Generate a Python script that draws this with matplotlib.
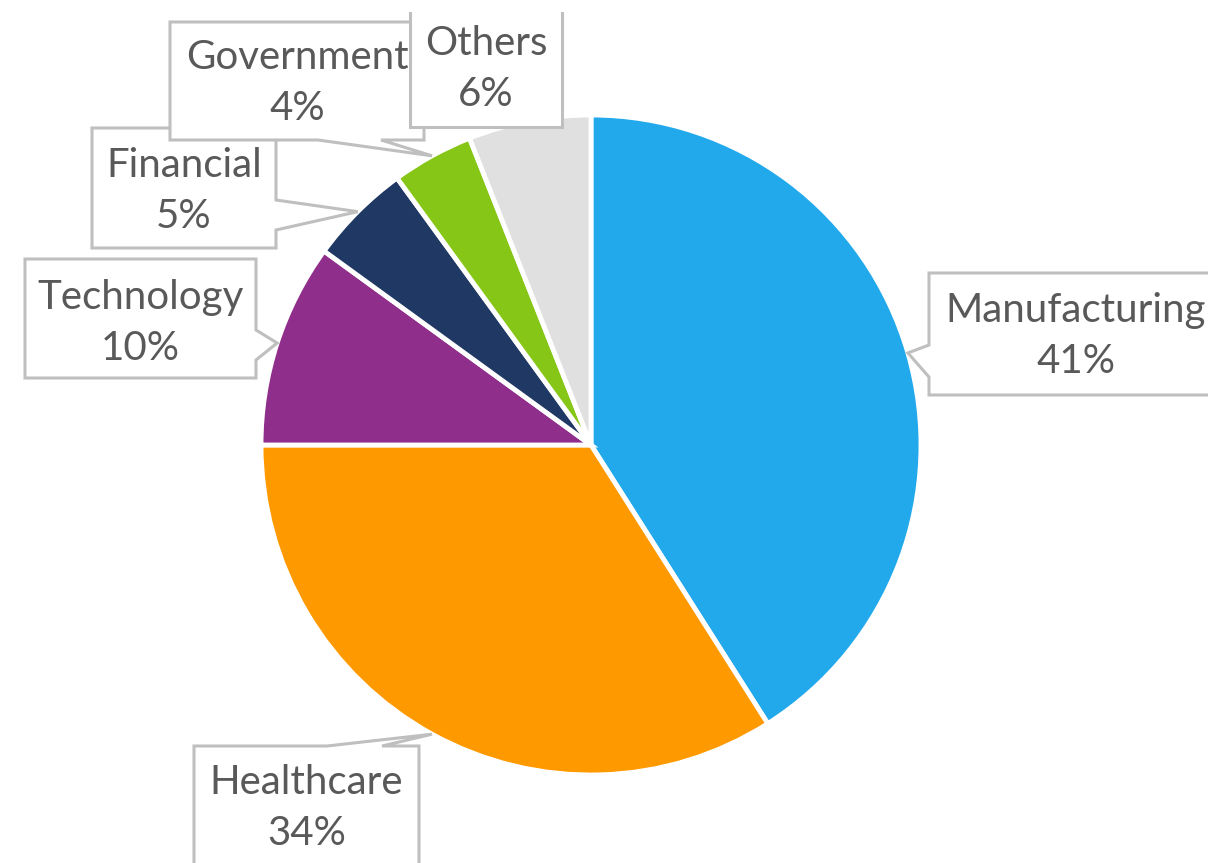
import numpy as np
import matplotlib.pyplot as plt
from matplotlib.patches import Polygon, Rectangle

# donnees du graphique
sectors = ['Manufacturing', 'Healthcare', 'Technology', 'Financial', 'Government', 'Others']
shares = [41, 34, 10, 5, 4, 6]
colors = ['#22A9EC', '#FF9900', '#8F2F8B', '#1F3864', '#86C617', '#E0E0E0']

# boites des etiquettes en pixels (x0, y0, x1, y1), cote du pointeur et base du pointeur
boxes = {
    'Manufacturing': ((929, 273, 1240, 395), 'left', (345, 377)),
    'Healthcare': ((194, 746, 419, 900), 'top', (327, 382)),
    'Technology': ((25, 259, 256, 378), 'right', (330, 360)),
    'Financial': ((92, 128, 276, 248), 'right', (200, 230)),
    'Government': ((170, 22, 424, 140), 'bottom', (318, 381)),
    'Others': ((410, -20, 562, 127), None, None),
}
# centre vertical du texte de chaque boite (pixels)
text_y = {'Manufacturing': 336, 'Healthcare': 808, 'Technology': 323,
          'Financial': 191, 'Government': 83, 'Others': 69}

W, H = 1208, 863
cx, cy, R = 591, 445, 330

fig = plt.figure(figsize=(W / 100, H / 100), dpi=100)
ax = fig.add_axes([0, 0, 1, 1])

# axe y inverse -> startangle=-90 et counterclock=True donnent le sens horaire
wedges, _ = ax.pie(shares, colors=colors, startangle=-90, counterclock=True,
                   center=(cx, cy), radius=R,
                   wedgeprops=dict(edgecolor='white', linewidth=3.5, joinstyle='miter'))

ax.set_xlim(0, W)
ax.set_ylim(H, 0)
ax.set_aspect('auto')
ax.axis('off')


def callout(box, side, base, tip):
    x0, y0, x1, y1 = box
    TL, TR, BR, BL = (x0, y0), (x1, y0), (x1, y1), (x0, y1)
    if side == 'top':
        a, b = base
        return [TL, (a, y0), tip, (b, y0), TR, BR, BL]
    if side == 'right':
        a, b = base
        return [TL, TR, (x1, a), tip, (x1, b), BR, BL]
    if side == 'bottom':
        a, b = base
        return [TL, TR, BR, (b, y1), tip, (a, y1), BL]
    if side == 'left':
        a, b = base
        return [TL, TR, BR, BL, (x0, b), tip, (x0, a)]
    return [TL, TR, BR, BL]


clip = Rectangle((0, 12), W, H, transform=ax.transData)

for i, (name, val, w) in enumerate(zip(sectors, shares, wedges)):
    box, side, base = boxes[name]
    mid = np.deg2rad((w.theta1 + w.theta2) / 2)
    tip = (cx + R * np.cos(mid), cy + R * np.sin(mid))
    poly = Polygon(callout(box, side, base, tip), closed=True, facecolor='white',
                   edgecolor='#BFBFBF', linewidth=2.2, joinstyle='miter', zorder=3 + i)
    ax.add_patch(poly)
    if name == 'Others':
        poly.set_clip_path(clip)
    x0, y0, x1, y1 = box
    tx = (x0 + min(x1, 1222)) / 2
    ax.text(tx, text_y[name], f"{name}\n{val}%", ha='center', va='center', fontsize=29,
            family=['Lato', 'DejaVu Sans'], color='#595959', linespacing=1.45,
            zorder=10 + i)

fig.savefig('out.png', dpi=100)
